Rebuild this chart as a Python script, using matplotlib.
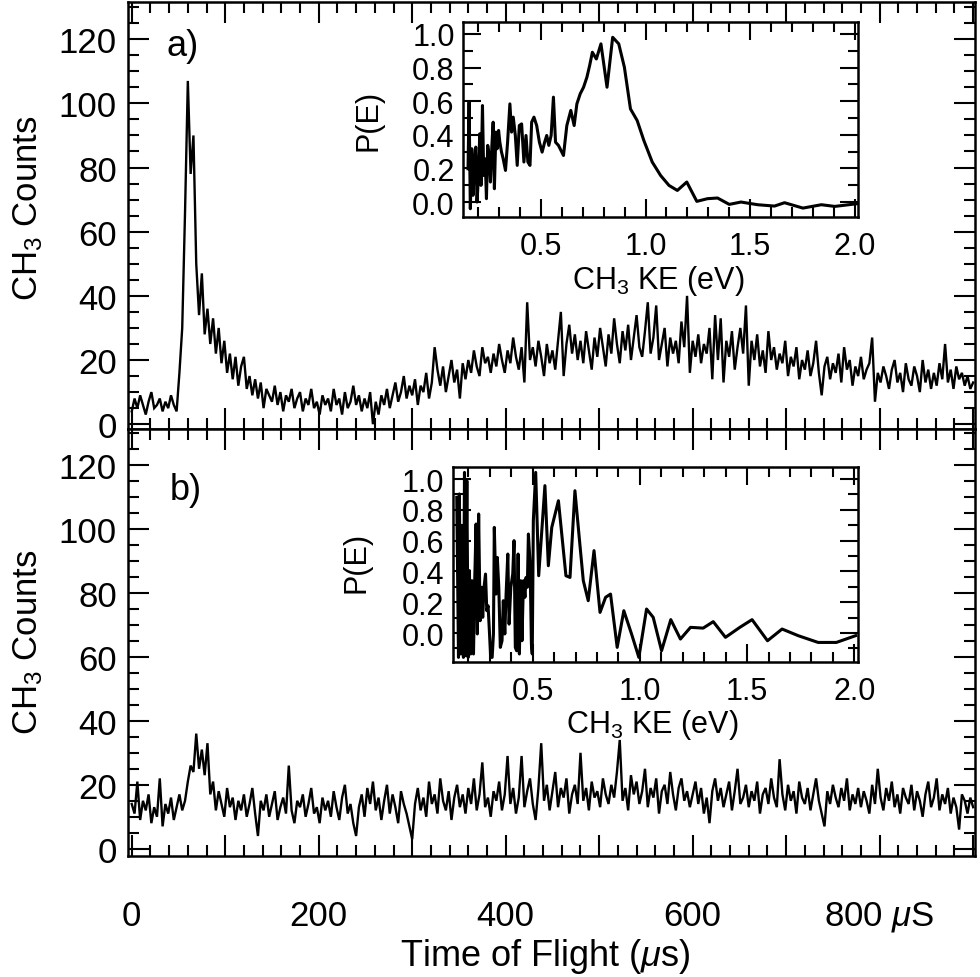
import numpy as np
import matplotlib
matplotlib.use("Agg")
import matplotlib.pyplot as plt
from matplotlib.ticker import MultipleLocator, FixedLocator, FuncFormatter, FormatStrFormatter

plt.rcParams['font.family'] = ['Liberation Sans', 'DejaVu Sans']
plt.rcParams['mathtext.fontset'] = 'custom'
plt.rcParams['mathtext.rm'] = 'Liberation Sans'
plt.rcParams['mathtext.it'] = 'Liberation Sans:italic'
plt.rcParams['mathtext.bf'] = 'Liberation Sans:bold'

# ---------------- data ----------------
tof_step = 3  # microseconds per bin
counts_a = [
    4, 8, 5, 9, 6, 3, 7, 10, 5, 6,
    8, 4, 7, 5, 9, 6, 4, 16, 30, 66,
    107, 78, 90, 50, 34, 47, 28, 36, 25, 33,
    22, 30, 19, 26, 16, 22, 14, 21, 12, 18,
    21, 11, 15, 9, 14, 8, 13, 5, 11, 9,
    7, 12, 6, 10, 4, 9, 7, 11, 5, 8,
    10, 4, 8, 6, 11, 5, 7, 3, 9, 6,
    8, 4, 11, 6, 8, 3, 10, 5, 7, 12,
    6, 9, 4, 8, 5, 10, 0, 7, 3, 9,
    6, 11, 5, 9, 13, 7, 10, 15, 8, 12,
    9, 14, 6, 12, 10, 16, 8, 13, 24, 17,
    12, 18, 10, 15, 20, 13, 17, 8, 19, 14,
    20, 16, 23, 18, 15, 24, 19, 21, 16, 22,
    18, 25, 20, 16, 23, 19, 27, 21, 17, 24,
    13, 38, 20, 24, 18, 26, 21, 15, 25, 19,
    23, 17, 26, 35, 15, 25, 31, 22, 28, 20,
    26, 19, 29, 23, 17, 27, 21, 30, 24, 18,
    28, 22, 33, 25, 19, 29, 23, 31, 20, 27,
    34, 24, 21, 29, 38, 22, 27, 37, 20, 25,
    30, 18, 27, 22, 26, 19, 32, 24, 40, 16,
    26, 21, 28, 19, 25, 22, 30, 14, 34, 20,
    33, 13, 26, 21, 29, 17, 24, 30, 22, 37,
    12, 26, 20, 28, 18, 23, 16, 29, 20, 24,
    17, 22, 19, 26, 15, 21, 18, 24, 14, 20,
    17, 23, 15, 19, 26, 16, 9, 18, 21, 14,
    19, 16, 22, 13, 24, 17, 20, 12, 18, 15,
    21, 14, 17, 19, 27, 7, 16, 13, 18, 15,
    11, 17, 20, 13, 16, 10, 19, 14, 12, 18,
    15, 10, 20, 13, 17, 11, 16, 12, 19, 14,
    25, 13, 17, 11, 18, 14, 16, 12, 15, 11,
    13,
]
counts_b = [
    14, 11, 21, 9, 15, 12, 17, 8, 13, 10,
    22, 7, 14, 11, 16, 9, 13, 17, 12, 15,
    21, 26, 24, 36, 25, 31, 23, 33, 17, 21,
    12, 18, 14, 10, 19, 13, 16, 9, 15, 12,
    17, 10, 14, 19, 11, 4, 15, 12, 17, 10,
    14, 18, 9, 13, 16, 11, 26, 12, 8, 15,
    13, 17, 10, 14, 19, 11, 13, 8, 16, 12,
    15, 10, 18, 13, 9, 16, 20, 11, 14, 8,
    4, 13, 17, 10, 19, 14, 21, 12, 16, 9,
    15, 20, 11, 17, 13, 8, 18, 14, 11, 7,
    3, 14, 19, 12, 16, 10, 21, 14, 17, 11,
    22, 15, 12, 18, 9, 16, 20, 13, 17, 11,
    19, 14, 22, 12, 17, 27, 13, 16, 10, 18,
    15, 21, 12, 17, 29, 14, 19, 11, 16, 29,
    13, 18, 22, 14, 9, 19, 33, 15, 20, 12,
    18, 24, 13, 19, 16, 22, 11, 17, 20, 14,
    30, 15, 19, 12, 21, 16, 18, 13, 22, 17,
    14, 20, 16, 24, 34, 15, 19, 12, 23, 17,
    21, 14, 18, 25, 13, 19, 16, 22, 11, 18,
    20, 14, 24, 17, 12, 19, 22, 15, 18, 13,
    17, 21, 14, 19, 11, 16, 8, 18, 22, 15,
    19, 13, 17, 21, 12, 18, 25, 14, 16, 20,
    13, 18, 15, 21, 11, 17, 19, 14, 22, 16,
    13, 28, 17, 12, 20, 15, 18, 11, 21, 16,
    14, 19, 12, 17, 22, 15, 11, 7, 18, 14,
    20, 16, 13, 19, 15, 22, 12, 17, 14, 19,
    13, 18, 15, 11, 20, 14, 25, 16, 12, 19,
    15, 21, 13, 17, 11, 19, 16, 14, 20, 12,
    18, 15, 10, 17, 21, 13, 16, 22, 12, 17,
    14, 19, 11, 16, 13, 6, 17, 15, 11, 16,
    13,
]

ke_a = [0.152, 0.157, 0.163, 0.170, 0.176, 0.182, 0.189, 0.195, 0.202, 0.208,
        0.214, 0.221, 0.227, 0.234, 0.240, 0.246, 0.253, 0.259, 0.266, 0.272,
        0.278, 0.285, 0.291, 0.298, 0.304, 0.312, 0.320, 0.331, 0.341, 0.352,
        0.360, 0.368, 0.378, 0.387, 0.397, 0.408, 0.419, 0.429, 0.438, 0.448,
        0.456, 0.467, 0.480, 0.493, 0.506, 0.518, 0.528, 0.538, 0.549, 0.560,
        0.570, 0.584, 0.608, 0.624, 0.643, 0.659, 0.672, 0.688, 0.704, 0.720,
        0.733, 0.746, 0.765, 0.787, 0.816, 0.843, 0.872, 0.899, 0.928, 0.960,
        0.992, 1.032, 1.072, 1.112, 1.152, 1.197, 1.245, 1.296, 1.344, 1.400,
        1.456, 1.536, 1.616, 1.664, 1.752, 1.840, 1.904, 2.010]
pe_a = [0.198, 0.594, -0.040, 0.317, 0.040, 0.218, 0.327, 0.0, 0.158, 0.406,
        0.099, 0.574, 0.158, 0.257, 0.020, 0.337, 0.277, 0.119, 0.337, 0.475,
        0.079, 0.416, 0.317, 0.426, 0.356, 0.297, 0.257, 0.188, 0.356, 0.584,
        0.416, 0.505, 0.396, 0.218, 0.455, 0.465, 0.238, 0.396, 0.238, 0.218,
        0.475, 0.505, 0.455, 0.356, 0.297, 0.356, 0.396, 0.337, 0.396, 0.624,
        0.356, 0.337, 0.277, 0.455, 0.545, 0.455, 0.584, 0.644, 0.683, 0.743,
        0.812, 0.891, 0.851, 0.941, 0.683, 0.980, 0.941, 0.802, 0.554, 0.485,
        0.366, 0.238, 0.158, 0.099, 0.069, 0.119, 0.004, 0.020, 0.024, -0.014,
        0.0, -0.016, -0.024, -0.004, -0.036, -0.016, -0.026, -0.010]

ke_b = [0.146, 0.154, 0.158, 0.165, 0.171, 0.177, 0.182, 0.186, 0.193, 0.199,
        0.205, 0.211, 0.217, 0.224, 0.230, 0.236, 0.242, 0.248, 0.255, 0.261,
        0.267, 0.273, 0.280, 0.286, 0.292, 0.298, 0.304, 0.311, 0.317, 0.321,
        0.329, 0.335, 0.342, 0.349, 0.357, 0.363, 0.370, 0.376, 0.384, 0.390,
        0.398, 0.407, 0.413, 0.419, 0.425, 0.432, 0.438, 0.444, 0.450, 0.457,
        0.464, 0.469, 0.475, 0.480, 0.488, 0.494, 0.498, 0.503, 0.514, 0.528,
        0.557, 0.573, 0.589, 0.620, 0.655, 0.674, 0.697, 0.717, 0.736, 0.759,
        0.786, 0.814, 0.840, 0.863, 0.894, 0.925, 0.961, 0.995, 1.031, 1.062,
        1.101, 1.144, 1.189, 1.236, 1.295, 1.342, 1.399, 1.466, 1.523, 1.595,
        1.663, 1.738, 1.831, 1.916, 2.006]
pe_b = [0.881, -0.158, 0.903, -0.136, 0.686, -0.158, 1.043, -0.147, 0.989, -0.158,
        0.405, -0.136, 0.340, -0.136, 0.361, 0.708, -0.006, 0.773, 0.080, 0.297,
        0.102, 0.297, 0.383, 0.145, 0.177, 0.015, -0.158, -0.158, -0.006, 0.686,
        0.253, 0.491, 0.297, -0.093, -0.050, 0.210, -0.006, 0.253, 0.513, 0.058,
        0.297, 0.383, 0.600, -0.093, -0.115, 0.513, -0.136, 0.340, -0.050, 0.340,
        0.232, 0.361, 0.297, 0.643, 0.448, -0.071, -0.136, 0.729, 1.043, 0.372,
        0.957, 0.437, 0.686, 0.859, 0.372, 0.361, 0.924, 0.621, 0.340, 0.210,
        0.535, 0.134, 0.232, 0.253, -0.093, 0.145, -0.006, -0.158, 0.156, 0.102,
        -0.115, 0.087, -0.039, 0.037, 0.032, 0.074, -0.028, 0.037, 0.087, -0.050,
        0.026, -0.017, -0.061, -0.061, -0.017]

panel_labels = ["a)", "b)"]
main_ylabel = "CH$_3$ Counts"
main_xlabel = "Time of Flight ($\\mu$s)"
inset_ylabel = "P(E)"
inset_xlabel = "CH$_3$ KE (eV)"

# ---------------- figure ----------------
W, H = 980, 978
fig = plt.figure(figsize=(W / 100, H / 100), dpi=100)
fig.patch.set_facecolor("white")

def fx(px):
    return px / W

def fy(py):
    return 1 - py / H

ax1 = fig.add_axes([fx(128), fy(430), fx(975) - fx(128), fy(3) - fy(430)])
ax2 = fig.add_axes([fx(128), fy(856.5), fx(975) - fx(128), fy(430) - fy(856.5)])

tof_a = np.arange(len(counts_a)) * tof_step
tof_b = np.arange(len(counts_b)) * tof_step

ax1.plot(tof_a, counts_a, color="black", lw=1.7, solid_joinstyle="miter")
ax2.plot(tof_b, counts_b, color="black", lw=1.7, solid_joinstyle="miter")

ax1.set_ylim(-1.5, 131.6)
ax2.set_ylim(-2.1, 131.2)


def xfmt(v, pos):
    iv = int(round(v))
    if iv % 200 == 0 and 0 <= iv <= 800:
        return "800 $\\mu$S" if iv == 800 else str(iv)
    return ""


for ax in (ax1, ax2):
    ax.set_xlim(-4, 902)
    for s in ax.spines.values():
        s.set_linewidth(1.8)
    ax.xaxis.set_major_locator(MultipleLocator(100))
    ax.xaxis.set_minor_locator(MultipleLocator(20))
    ax.yaxis.set_major_locator(MultipleLocator(20))
    ax.yaxis.set_minor_locator(MultipleLocator(5))
    ax.yaxis.set_major_formatter(FuncFormatter(lambda v, p: str(int(round(v))) if v >= 0 else ""))
    ax.tick_params(which="both", direction="in", top=True, right=True, width=1.5,
                   labelsize=25)
    ax.tick_params(which="major", length=15)
    ax.tick_params(which="minor", length=8)
    ax.tick_params(axis="y", pad=8)
    ax.tick_params(axis="x", pad=31)

ax1.tick_params(labelbottom=False)
ax2.xaxis.set_major_formatter(FuncFormatter(xfmt))

fig.text(fx(28), fy(208), main_ylabel, rotation=90, ha="center", va="center", fontsize=25)
fig.text(fx(28), fy(642), main_ylabel, rotation=90, ha="center", va="center", fontsize=25)
fig.text(fx(400), fy(957), main_xlabel, ha="left", va="center", fontsize=26)
fig.text(fx(167), fy(46), panel_labels[0], ha="left", va="center", fontsize=26)
fig.text(fx(170), fy(491), panel_labels[1], ha="left", va="center", fontsize=26)

# ---------------- insets ----------------
axi1 = fig.add_axes([fx(463), fy(218), fx(858) - fx(463), fy(23) - fy(218)])
axi2 = fig.add_axes([fx(452.7), fy(663), fx(858) - fx(452.7), fy(468) - fy(663)])

axi1.plot(ke_a, pe_a, color="black", lw=2.2)
axi2.plot(ke_b, pe_b, color="black", lw=2.2)
axi1.set_xlim(0.128, 2.015)
axi1.set_ylim(-0.089, 1.071)
axi2.set_xlim(0.127, 2.017)
axi2.set_ylim(-0.188, 1.078)

for axi in (axi1, axi2):
    for s in axi.spines.values():
        s.set_linewidth(1.8)
    axi.xaxis.set_major_locator(FixedLocator([0.5, 1.0, 1.5, 2.0]))
    axi.xaxis.set_minor_locator(MultipleLocator(0.1))
    axi.yaxis.set_major_locator(FixedLocator([0.0, 0.2, 0.4, 0.6, 0.8, 1.0]))
    axi.yaxis.set_minor_locator(MultipleLocator(0.1))
    axi.xaxis.set_major_formatter(FormatStrFormatter("%.1f"))
    axi.yaxis.set_major_formatter(FormatStrFormatter("%.1f"))
    axi.tick_params(which="both", direction="in", top=True, right=True, width=1.5,
                    labelsize=22)
    axi.tick_params(which="major", length=13)
    axi.tick_params(which="minor", length=7)
    axi.tick_params(axis="y", pad=6)
    axi.tick_params(axis="x", pad=10)

fig.text(fx(368), fy(120), inset_ylabel, rotation=90, ha="center", va="center", fontsize=22)
fig.text(fx(356), fy(562), inset_ylabel, rotation=90, ha="center", va="center", fontsize=22)
fig.text(fx(658), fy(281), inset_xlabel, ha="center", va="center", fontsize=22)
fig.text(fx(652), fy(725), inset_xlabel, ha="center", va="center", fontsize=22)

fig.savefig("out.png", dpi=100, facecolor="white")
